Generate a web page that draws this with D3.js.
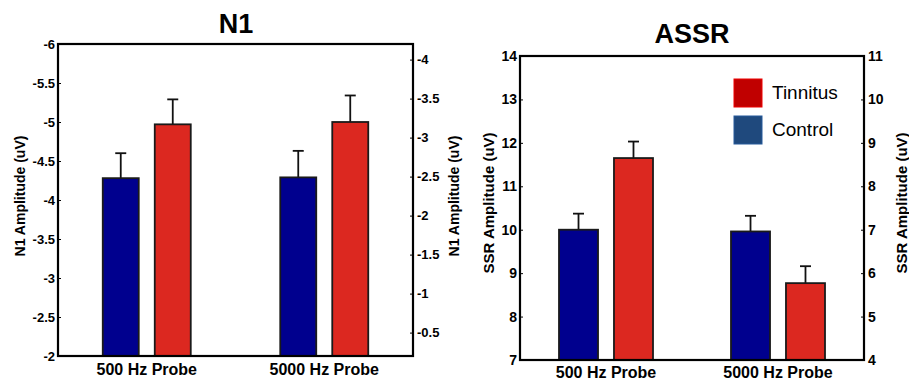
<!DOCTYPE html>
<html>
<head>
<meta charset="utf-8">
<script src="https://cdn.jsdelivr.net/npm/d3@7"></script>
<style>
  body { margin: 0; background: #fff; }
  text { font-family: "Liberation Sans", Arial, sans-serif; }
</style>
</head>
<body>
<div id="main"></div>
<script>
const groups = ["500 Hz Probe", "5000 Hz Probe"];
const series = ["Control", "Tinnitus"];

// N1 panel (uV, negative axis)
const n1Control = [-4.28, -4.29];
const n1Tinnitus = [-4.97, -5.0];
const n1ControlErr = [0.32, 0.34];
const n1TinnitusErr = [0.32, 0.34];
const n1LeftTicks = [-2, -2.5, -3, -3.5, -4, -4.5, -5, -5.5, -6];
const n1RightTicks = [-0.5, -1, -1.5, -2, -2.5, -3, -3.5, -4];

// ASSR panel
const ssrControl = [10.0, 9.96];
const ssrTinnitus = [11.65, 8.77];
const ssrControlErr = [0.37, 0.36];
const ssrTinnitusErr = [0.38, 0.39];
const ssrLeftTicks = [7, 8, 9, 10, 11, 12, 13, 14];
const ssrRightTicks = [4, 5, 6, 7, 8, 9, 10, 11];

const legendLabels = ["Tinnitus", "Control"];
const legendColors = ["#c00000", "#1f497d"];

const barColor = { Control: "#00008e", Tinnitus: "#dc2820" };

const svg = d3.select("#main").append("svg")
  .attr("width", 909).attr("height", 384);

function drawPanel(p) {
  const x = d3.scaleBand().domain(groups).range([p.x0, p.x1]);
  const inner = d3.scaleBand().domain(series)
    .range([-p.half, p.half]).paddingInner(p.innerPad);
  const y = d3.scaleLinear().domain(p.domain).range([p.y1, p.y0]);
  const y2 = d3.scaleLinear().domain(p.domain2).range([p.y1, p.y0]);

  const g = svg.append("g");

  const rows = [];
  groups.forEach((grp, i) => {
    rows.push({ grp, s: "Control", v: p.control[i], e: p.controlErr[i] });
    rows.push({ grp, s: "Tinnitus", v: p.tinnitus[i], e: p.tinnitusErr[i] });
  });

  const cx = d => x(d.grp) + x.bandwidth() / 2 + inner(d.s);

  // error bars (upward only)
  const eb = g.selectAll(".err").data(rows).join("g");
  eb.append("line")
    .attr("x1", d => cx(d) + inner.bandwidth() / 2)
    .attr("x2", d => cx(d) + inner.bandwidth() / 2)
    .attr("y1", d => y(d.v))
    .attr("y2", d => y(p.sign * (Math.abs(d.v) + d.e)))
    .attr("stroke", "#111").attr("stroke-width", 1.8);
  eb.append("line")
    .attr("x1", d => cx(d) + inner.bandwidth() / 2 - 5.5)
    .attr("x2", d => cx(d) + inner.bandwidth() / 2 + 5.5)
    .attr("y1", d => y(p.sign * (Math.abs(d.v) + d.e)))
    .attr("y2", d => y(p.sign * (Math.abs(d.v) + d.e)))
    .attr("stroke", "#111").attr("stroke-width", 1.8);

  g.selectAll(".bar").data(rows).join("rect")
    .attr("x", d => cx(d))
    .attr("width", inner.bandwidth())
    .attr("y", d => y(d.v))
    .attr("height", d => y(p.domain[0]) - y(d.v))
    .attr("fill", d => barColor[d.s])
    .attr("stroke", "#1a1a1a").attr("stroke-width", 1.8);

  // frame
  g.append("rect")
    .attr("x", p.x0).attr("y", p.y0)
    .attr("width", p.x1 - p.x0).attr("height", p.y1 - p.y0)
    .attr("fill", "none").attr("stroke", "#000").attr("stroke-width", 2.2);

  const la = g.append("g").attr("transform", `translate(${p.x0},0)`)
    .call(d3.axisLeft(y).tickValues(p.leftTicks).tickSize(-3).tickPadding(3).tickFormat(d => String(d)));
  const ra = g.append("g").attr("transform", `translate(${p.x1},0)`)
    .call(d3.axisRight(y2).tickValues(p.rightTicks).tickSize(-3).tickPadding(4).tickFormat(d => String(d)));
  [la, ra].forEach(a => {
    a.select(".domain").remove();
    a.selectAll("text").attr("font-size", p.tickFont).attr("font-weight", "bold").attr("fill", "#000");
    a.selectAll("line").attr("stroke", "#000").attr("stroke-width", 1);
  });

  // x labels
  g.selectAll(".xl").data(groups).join("text")
    .attr("x", d => x(d) + x.bandwidth() / 2)
    .attr("y", p.xLabelY)
    .attr("text-anchor", "middle")
    .attr("font-size", 16).attr("font-weight", "bold")
    .text(d => d);

  // title
  g.append("text")
    .attr("x", p.titleX).attr("y", p.titleY)
    .attr("text-anchor", "middle")
    .attr("font-size", p.titleSize).attr("font-weight", "bold")
    .text(p.title);

  // y labels
  const midY = (p.y0 + p.y1) / 2 + p.labelShift;
  [p.labelLX, p.labelRX].forEach(lx => {
    g.append("text")
      .attr("transform", `translate(${lx},${midY}) rotate(-90)`)
      .attr("text-anchor", "middle")
      .attr("font-size", p.labelSize).attr("font-weight", "bold")
      .text(p.ylabel);
  });
}

drawPanel({
  x0: 58, x1: 413, y0: 44, y1: 356,
  domain: [-2, -6], domain2: [-0.2, -4.2], sign: -1,
  half: 44, innerPad: 0.308,
  control: n1Control, tinnitus: n1Tinnitus,
  controlErr: n1ControlErr, tinnitusErr: n1TinnitusErr,
  leftTicks: n1LeftTicks, rightTicks: n1RightTicks,
  tickFont: 13, xLabelY: 375,
  title: "N1", titleX: 236, titleY: 33, titleSize: 27,
  ylabel: "N1 Amplitude (uV)", labelLX: 25, labelRX: 459, labelSize: 14, labelShift: -4
});

drawPanel({
  x0: 520, x1: 864, y0: 56, y1: 360,
  domain: [7, 14], domain2: [4, 11], sign: 1,
  half: 47, innerPad: 0.29,
  control: ssrControl, tinnitus: ssrTinnitus,
  controlErr: ssrControlErr, tinnitusErr: ssrTinnitusErr,
  leftTicks: ssrLeftTicks, rightTicks: ssrRightTicks,
  tickFont: 14, xLabelY: 378,
  title: "ASSR", titleX: 692, titleY: 43, titleSize: 27,
  ylabel: "SSR Amplitude (uV)", labelLX: 494, labelRX: 907, labelSize: 15, labelShift: -5
});

// legend
const leg = svg.append("g").attr("transform", "translate(734,79)");
const li = leg.selectAll("g").data(legendLabels).join("g")
  .attr("transform", (d, i) => `translate(0,${i * 37})`);
li.append("rect")
  .attr("width", 28).attr("height", 28)
  .attr("fill", (d, i) => legendColors[i])
  .attr("stroke", (d, i) => d3.color(legendColors[i]).brighter(0.6)).attr("stroke-width", 1);
li.append("text")
  .attr("x", 38).attr("y", 20)
  .attr("font-family", "Lato, 'Open Sans', sans-serif")
  .attr("font-size", 19)
  .text(d => d);
</script>
</body>
</html>
